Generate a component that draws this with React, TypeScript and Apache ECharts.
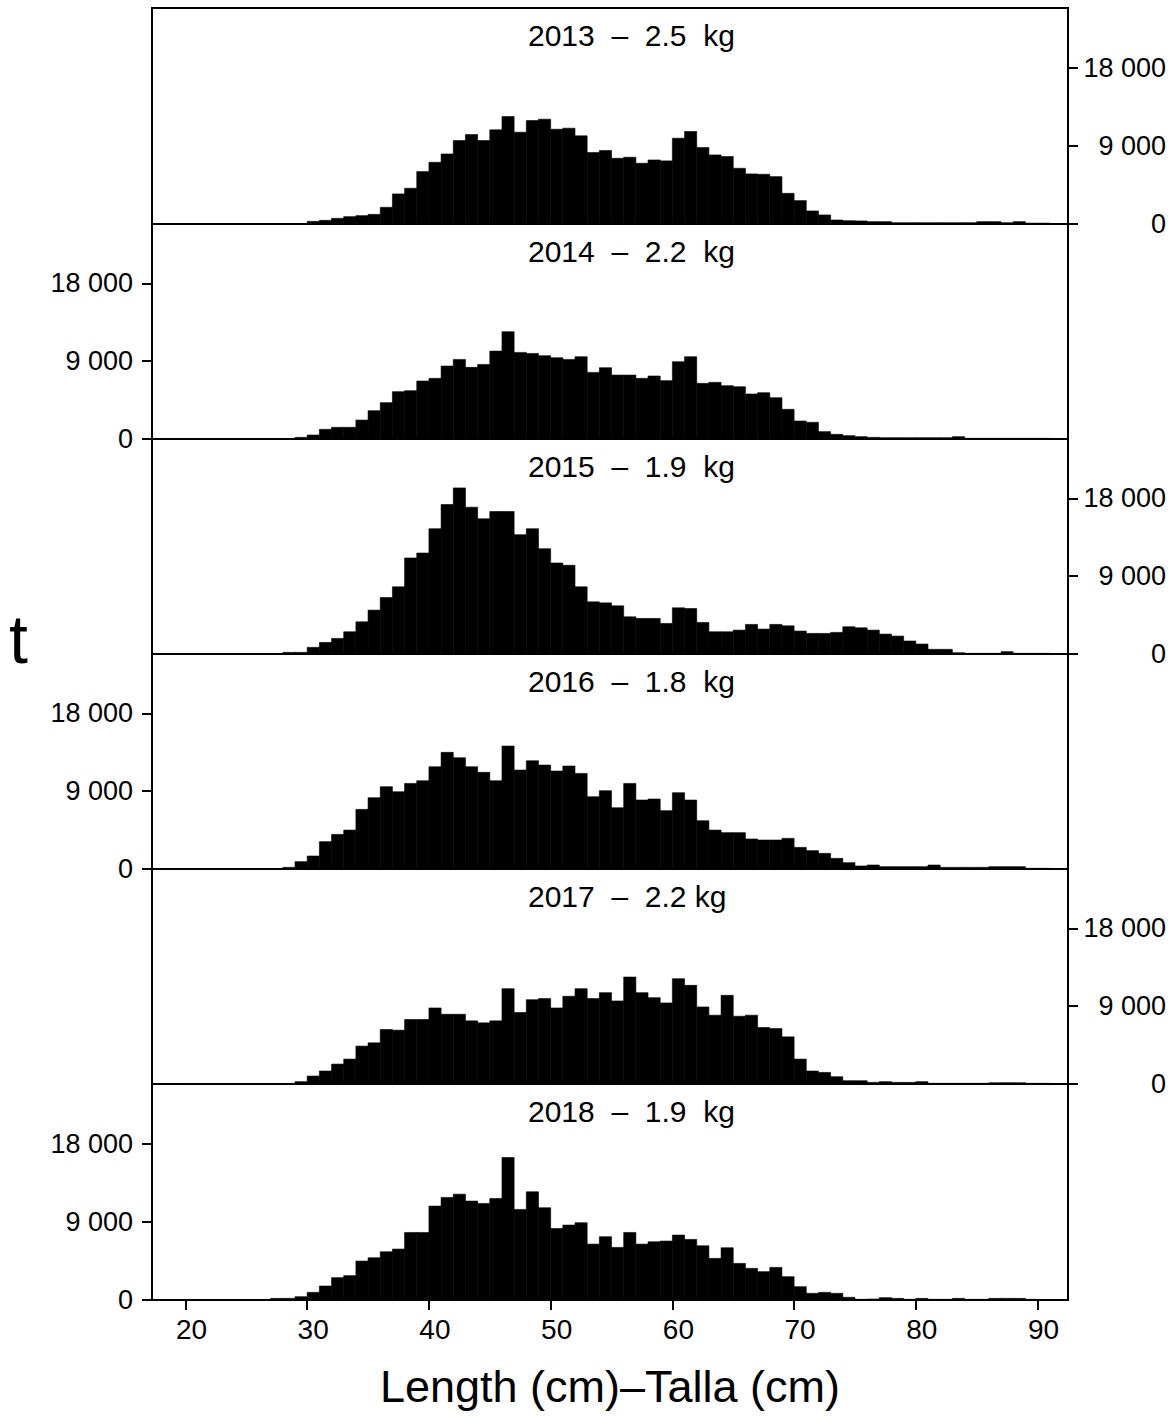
import React, { useEffect, useRef } from "react";
import * as echarts from "echarts";

const YEARS = ["2013", "2014", "2015", "2016", "2017", "2018"];
const TITLES = [
  "2013  \u2013  2.5  kg",
  "2014  \u2013  2.2  kg",
  "2015  \u2013  1.9  kg",
  "2016  \u2013  1.8  kg",
  "2017  \u2013  2.2 kg",
  "2018  \u2013  1.9  kg",
];

// length classes (cm), 20..90
const LENGTHS: number[] = [
  20, 21, 22, 23, 24, 25, 26, 27, 28, 29,
  30, 31, 32, 33, 34, 35, 36, 37, 38, 39,
  40, 41, 42, 43, 44, 45, 46, 47, 48, 49,
  50, 51, 52, 53, 54, 55, 56, 57, 58, 59,
  60, 61, 62, 63, 64, 65, 66, 67, 68, 69,
  70, 71, 72, 73, 74, 75, 76, 77, 78, 79,
  80, 81, 82, 83, 84, 85, 86, 87, 88, 89, 90,
];

// catch in tonnes per length class
const T2013 = [
  0, 0, 0, 0, 0, 0, 0, 0, 0, 0,
  300, 420, 650, 845, 960, 1110, 1920, 3460, 4110, 6030,
  7100, 8060, 9600, 10290, 9600, 10830, 12360, 10560, 11900, 12060,
  10900, 11020, 10140, 8220, 8450, 7560, 7680, 6990, 7370, 7260,
  9870, 10640, 8790, 7950, 7760, 6410, 5760, 5720, 5450, 3530,
  2690, 1500, 1040, 460, 380, 350, 270, 270, 150, 150,
  150, 150, 150, 150, 150, 270, 270, 150, 270, 100, 100,
];
const T2014 = [
  0, 0, 0, 0, 0, 0, 0, 0, 0, 190,
  460, 1120, 1350, 1350, 2190, 3270, 4200, 5470, 5580, 6700,
  7010, 8430, 9200, 8280, 8620, 10160, 12400, 10010, 9890, 9630,
  9390, 9200, 9510, 7700, 8240, 7390, 7390, 7010, 7280, 6740,
  8930, 9510, 6430, 6550, 6160, 6040, 5200, 5350, 4770, 3430,
  2080, 1930, 850, 540, 385, 270, 190, 150, 150, 150,
  150, 150, 150, 270, 80, 80, 80, 80, 80, 80, 80,
];
const T2015 = [
  0, 0, 0, 0, 0, 0, 0, 0, 190, 190,
  770, 1340, 1800, 2570, 3720, 5070, 6530, 7760, 11100, 11670,
  14480, 17280, 19200, 16970, 15630, 16470, 16470, 13790, 14480, 12170,
  10520, 10250, 7760, 6030, 5910, 5570, 4300, 4110, 4110, 3530,
  5340, 5260, 3650, 2570, 2570, 2760, 3420, 2880, 3420, 3260,
  2650, 2380, 2380, 2500, 3150, 3030, 2760, 2300, 2070, 1500,
  1150, 540, 540, 150, 80, 80, 80, 270, 80, 80, 80,
];
const T2016 = [
  0, 0, 0, 0, 0, 0, 0, 0, 190, 850,
  1500, 3160, 4000, 4500, 6890, 8240, 9510, 8930, 9890, 10200,
  11820, 13480, 12860, 11820, 11170, 10200, 14210, 11430, 12510, 12010,
  11320, 11900, 11050, 8350, 9050, 7080, 9890, 7970, 8090, 6740,
  8820, 7970, 5580, 4500, 4200, 4200, 3470, 3350, 3350, 3540,
  2500, 2120, 1810, 1230, 730, 350, 460, 270, 270, 270,
  270, 460, 190, 190, 190, 190, 270, 270, 270, 80, 80,
];
const T2017 = [
  60, 60, 60, 60, 60, 60, 60, 60, 60, 270,
  920, 1500, 2300, 2880, 4380, 4760, 6300, 6220, 7450, 7450,
  8790, 8060, 8060, 7300, 7070, 7300, 11020, 8260, 9750, 9870,
  8790, 10140, 11020, 9870, 10560, 9600, 12360, 10560, 9980, 9370,
  12170, 11400, 8910, 7950, 10250, 7830, 7950, 6530, 6410, 5450,
  2880, 1500, 1340, 840, 380, 380, 190, 270, 190, 190,
  270, 80, 80, 80, 80, 80, 150, 150, 150, 80, 80,
];
const T2018 = [
  60, 60, 60, 60, 60, 60, 60, 190, 190, 380,
  880, 1610, 2570, 2800, 4480, 4860, 5550, 5860, 7770, 7770,
  10800, 11800, 12180, 11380, 11110, 11680, 16390, 10420, 12450, 10610,
  8230, 8620, 8890, 6430, 7280, 6050, 7770, 6430, 6700, 6780,
  7470, 6970, 6240, 4790, 6010, 4210, 3640, 3260, 3750, 2680,
  1530, 770, 880, 770, 310, 80, 110, 270, 190, 80,
  190, 80, 80, 190, 80, 80, 190, 190, 190, 80, 0,
];
const SERIES = [T2013, T2014, T2015, T2016, T2017, T2018];

const X_TICKS = [20, 30, 40, 50, 60, 70, 80, 90];
const Y_TICKS = [0, 9000, 18000];
const Y_TICK_LABELS = ["0", "9 000", "18 000"];

const X_NAME = "Length (cm)\u2013Talla (cm)";
const Y_NAME = "t";

const FONT = "Liberation Sans, Arial, Helvetica, sans-serif";

export default function App() {
  const ref = useRef<HTMLDivElement>(null);

  useEffect(() => {
    if (!ref.current) return;
    const chart = echarts.init(ref.current, undefined, { renderer: "svg" });

    const tops = [8, 224, 439, 654, 869, 1084];
    const bottom = 1300;
    const heights = tops.map((t, i) => (i < tops.length - 1 ? tops[i + 1] : bottom) - t);
    const last = YEARS.length - 1;

    const renderItem = (params: any, api: any) => {
      const x0 = api.value(0);
      const v = api.value(1);
      const p1 = api.coord([x0, v]);
      const p2 = api.coord([x0 + 1, 0]);
      return {
        type: "rect",
        shape: { x: p1[0], y: p1[1], width: p2[0] - p1[0], height: p2[1] - p1[1] },
        style: { fill: "#000", stroke: "#000", lineWidth: 0.6 },
      };
    };

    const option: any = {
      animation: false,
      backgroundColor: "#fff",
      textStyle: { fontFamily: FONT },
      title: YEARS.map((_, i) => ({
        text: TITLES[i],
        left: 528,
        top: tops[i] + 12,
        padding: 0,
        textStyle: { fontSize: 30, fontWeight: "normal", color: "#000", fontFamily: FONT },
      })),
      grid: YEARS.map((_, i) => ({
        left: 152,
        width: 916,
        top: tops[i],
        height: heights[i],
        show: true,
        borderColor: "#000",
        borderWidth: 2,
        backgroundColor: "transparent",
        z: 3,
      })),
      xAxis: YEARS.map((_, i) => ({
        type: "value",
        gridIndex: i,
        min: 17.25,
        max: 92.5,
        axisLine: { show: false },
        splitLine: { show: false },
        axisTick: {
          show: i === last,
          customValues: X_TICKS,
          length: 10,
          inside: false,
          lineStyle: { color: "#000", width: 2 },
        },
        axisLabel: {
          show: i === last,
          customValues: X_TICKS,
          fontSize: 28,
          color: "#000",
          margin: 15,
          padding: [0, 0, 0, 12],
          fontFamily: FONT,
        },
        name: i === last ? X_NAME : "",
        nameLocation: "middle",
        nameGap: 64,
        nameTextStyle: { fontSize: 45, color: "#000", fontFamily: FONT },
      })),
      yAxis: YEARS.map((_, i) => {
        const right = i % 2 === 0;
        return {
          type: "value",
          gridIndex: i,
          min: 0,
          max: 24850,
          position: right ? "right" : "left",
          axisLine: { show: false },
          splitLine: { show: false },
          axisTick: {
            show: true,
            customValues: Y_TICKS,
            length: 10,
            inside: false,
            lineStyle: { color: "#000", width: 2 },
          },
          axisLabel: {
            show: true,
            customValues: Y_TICKS,
            formatter: (val: number) => {
              const k = Y_TICKS.indexOf(val);
              return k >= 0 ? Y_TICK_LABELS[k] : "";
            },
            fontSize: 27,
            color: "#000",
            fontFamily: FONT,
            align: "right",
            margin: right ? 98 : 19,
          },
        };
      }),
      series: YEARS.map((y, i) => ({
        type: "custom",
        name: y,
        xAxisIndex: i,
        yAxisIndex: i,
        clip: true,
        renderItem,
        data: LENGTHS.map((L, j) => [L, SERIES[i][j]]),
      })),
      graphic: [
        {
          type: "text",
          left: 9,
          top: 605,
          style: {
            text: Y_NAME,
            fontSize: 68,
            fill: "#000",
            fontFamily: FONT,
          },
        },
      ],
    };

    chart.setOption(option);
    return () => chart.dispose();
  }, []);

  return (
    <div
      ref={ref}
      style={{ position: "absolute", left: 0, top: 0, width: 1176, height: 1416, background: "#fff" }}
    />
  );
}
